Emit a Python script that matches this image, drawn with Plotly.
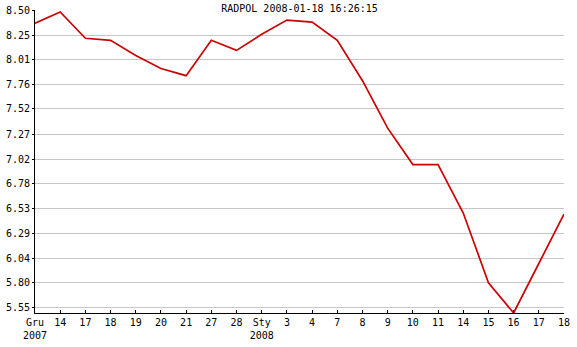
import plotly.graph_objects as go

# ---- data ----
x_labels = ["Gru<br>2007", "14", "17", "18", "19", "20", "21", "27", "28", "Sty<br>2008",
            "3", "4", "7", "8", "9", "10", "11", "14", "15", "16", "17", "18"]
prices = [8.37, 8.48, 8.22, 8.20, 8.05, 7.92, 7.85, 8.20, 8.10, 8.26,
          8.40, 8.38, 8.20, 7.80, 7.33, 6.97, 6.97, 6.49, 5.80, 5.50, 5.99, 6.48]
y_tick_labels = ["5.55", "5.80", "6.04", "6.29", "6.53", "6.78", "7.02",
                 "7.27", "7.52", "7.76", "8.01", "8.25", "8.50"]
title_text = "RADPOL 2008-01-18 16:26:15"

x_idx = list(range(len(x_labels)))
y_vals = [float(v) for v in y_tick_labels]

FONT = "DejaVu Sans Mono"

fig = go.Figure()
fig.add_trace(go.Scatter(
    x=x_idx, y=prices, mode="lines",
    line=dict(color="#cc0000", width=1.7),
    hoverinfo="skip", showlegend=False,
))

fig.update_layout(
    width=577, height=347,
    margin=dict(l=35, r=13, t=10, b=34),
    paper_bgcolor="white", plot_bgcolor="white",
    font=dict(family=FONT, size=10, color="black"),
    title=dict(text=title_text, x=(35 + 564) / 2 / 577, xanchor="center",
               y=1 - 8 / 347, yanchor="middle", yref="container",
               font=dict(family=FONT, size=10, color="black")),
)

fig.update_xaxes(
    range=[0, len(x_labels) - 1],
    tickmode="array", tickvals=x_idx, ticktext=x_labels,
    showgrid=False, zeroline=False, automargin=False,
    showline=True, linecolor="black", linewidth=1,
    ticks="inside", ticklen=3, tickcolor="black", tickwidth=1,
    tickfont=dict(family=FONT, size=10, color="black"),
)
fig.update_yaxes(
    range=[5.50, 8.50], automargin=False,
    tickmode="array", tickvals=y_vals, ticktext=y_tick_labels,
    showgrid=True, gridcolor="#c8c4cc", gridwidth=1,
    zeroline=False,
    showline=True, linecolor="black", linewidth=1,
    ticks="outside", ticklen=2, tickcolor="black", tickwidth=1,
    tickfont=dict(family=FONT, size=10, color="black"),
)

fig.write_html("out.html")
